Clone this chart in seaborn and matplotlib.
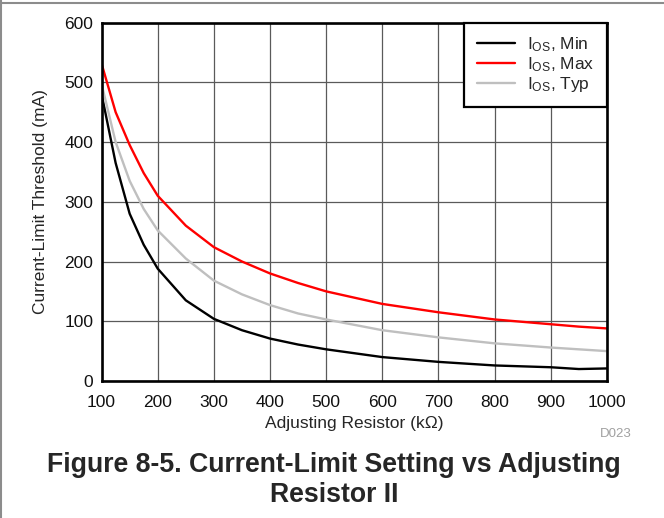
import numpy as np
import pandas as pd
import matplotlib
matplotlib.use('Agg')
import matplotlib.pyplot as plt
import seaborn as sns
from matplotlib.lines import Line2D

# ================= DATA =================

resistance = [100, 125, 150, 175, 200, 250, 300, 350, 400, 450, 500,
              600, 700, 800, 900, 950, 1000]

i_min = [480, 365, 280, 228, 188, 135, 104, 85, 71, 61, 53,
         40, 32, 26, 23, 20, 21]

i_max = [531, 450, 395, 348, 310, 260, 224, 200, 180, 164, 150,
         129, 115, 103, 95, 91, 88]

i_typ = [497, 400, 335, 288, 252, 205, 168, 145, 127, 113, 103,
         85, 73, 63, 56, 53, 50]

labels = ['I$_{OS}$, Min', 'I$_{OS}$, Max', 'I$_{OS}$, Typ']
colors = ['#000000', '#ff0000', '#bfbfbf']

x_ticks = list(range(100, 1001, 100))
y_ticks = list(range(0, 601, 100))

# ================= STYLE =================

sns.set_style('white')
plt.rcParams['font.family'] = ['Liberation Sans', 'DejaVu Sans']
plt.rcParams['mathtext.default'] = 'regular'

df = pd.concat([
    pd.DataFrame({'R': resistance, 'I': i_min, 'series': labels[0]}),
    pd.DataFrame({'R': resistance, 'I': i_max, 'series': labels[1]}),
    pd.DataFrame({'R': resistance, 'I': i_typ, 'series': labels[2]}),
])

fig = plt.figure(figsize=(6.64, 5.18), dpi=100)
ax = fig.add_axes([0.153, 0.2645, 0.761, 0.692])

sns.lineplot(
    data=df,
    x='R',
    y='I',
    hue='series',
    palette=dict(zip(labels, colors)),
    linewidth=1.7,
    ax=ax
)

ax.set_xlim(100, 1000)
ax.set_ylim(0, 600)
ax.set_xticks(x_ticks)
ax.set_yticks(y_ticks)

ax.grid(True, color='#5a5a5a', linewidth=0.9)
ax.set_axisbelow(True)

for s in ax.spines.values():
    s.set_visible(True)
    s.set_color('black')
    s.set_linewidth(1.9)

ax.tick_params(length=0, labelsize=12.5, colors='#111111')
ax.tick_params(axis='x', pad=10)
ax.tick_params(axis='y', pad=6)

ax.set_xlabel('Adjusting Resistor (k\u03a9)', fontsize=12.5, labelpad=4.5)
ax.set_ylabel('Current-Limit Threshold (mA)', fontsize=12.5, labelpad=12)

leg = ax.legend(
    loc='upper right',
    borderaxespad=0,
    fontsize=12.5,
    frameon=True,
    fancybox=False,
    framealpha=1,
    edgecolor='black',
    handlelength=2.2,
    handletextpad=0.65,
    labelspacing=0.05,
    borderpad=0.75,
    title=None
)
leg.get_frame().set_linewidth(1.6)

fig.text(632 / 664, 1 - 434 / 518, 'D023', fontsize=9.5, color='#a0a0a0',
         ha='right', va='center')

fig.text(334 / 664, 1 - 479.5 / 518,
         'Figure 8-5. Current-Limit Setting vs Adjusting\nResistor II',
         fontsize=19.2, fontweight='bold', ha='center', va='center',
         linespacing=1.2)

# gray frame around the figure (left and top)
fig.add_artist(Line2D([0.0015, 0.0015], [0, 1], transform=fig.transFigure,
                      color='#8c8c8c', linewidth=1.5))
fig.add_artist(Line2D([0, 1], [1 - 2.5 / 518, 1 - 2.5 / 518],
                      transform=fig.transFigure, color='#8c8c8c', linewidth=1.5))

fig.savefig('out.png', dpi=100)
plt.close(fig)
